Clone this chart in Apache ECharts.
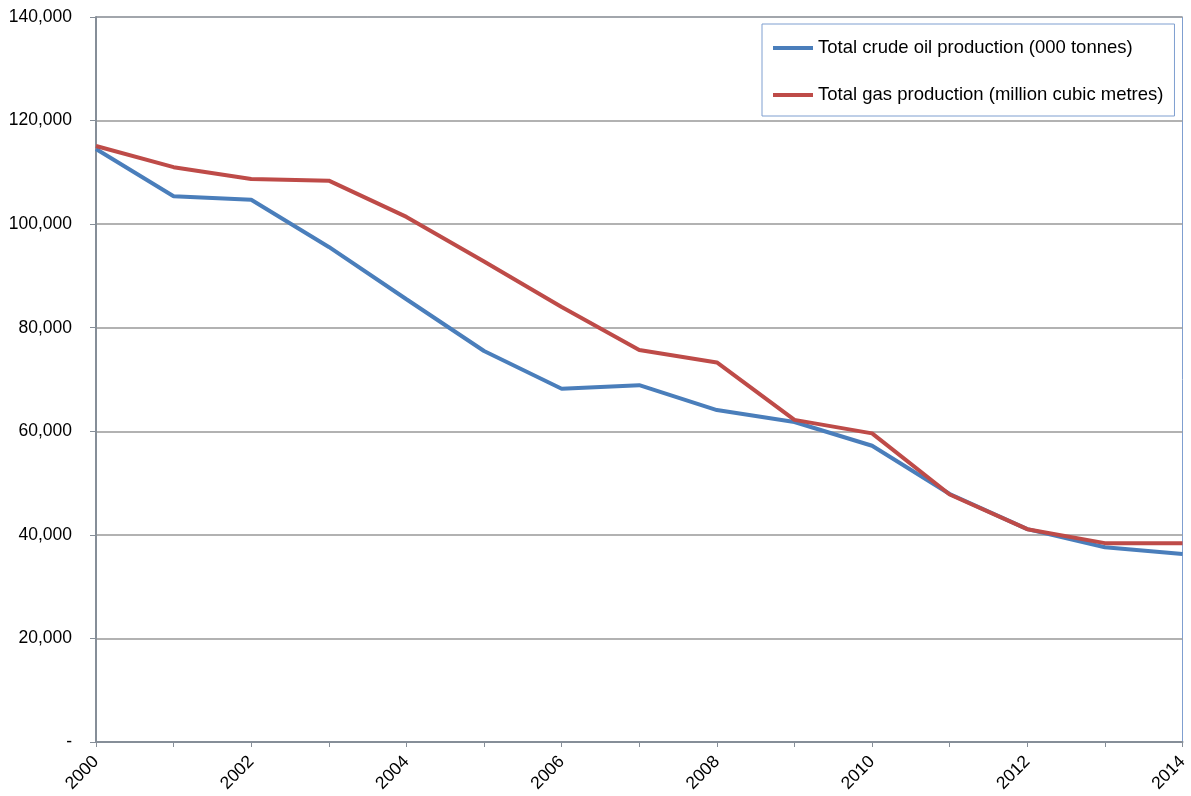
<!DOCTYPE html>
<html>
<head>
<meta charset="utf-8">
<script src="https://cdn.jsdelivr.net/npm/echarts@6/dist/echarts.min.js"></script>
<style>
  html, body { margin: 0; padding: 0; background: #fff; }
  #chart { width: 1191px; height: 796px; }
</style>
</head>
<body>
<div id="chart"></div>
<script>
// Years on the horizontal axis
const years = ['2000','2001','2002','2003','2004','2005','2006','2007','2008','2009','2010','2011','2012','2013','2014'];

// Total crude oil production (000 tonnes)
const oilProduction = [114500, 105400, 104700, 95600, 85500, 75500, 68200, 68900, 64100, 61800, 57200, 47900, 41100, 37600, 36300];

// Total gas production (million cubic metres)
const gasProduction = [115100, 111000, 108700, 108400, 101400, 92800, 84000, 75700, 73300, 62200, 59600, 47800, 41100, 38400, 38400];

const seriesNames = ['Total crude oil production (000 tonnes)', 'Total gas production (million cubic metres)'];

const fontFamily = '"Liberation Sans", Arial, sans-serif';
const chart = echarts.init(document.getElementById('chart'), null, { renderer: 'canvas' });

chart.setOption({
  animation: false,
  backgroundColor: '#ffffff',
  grid: {
    left: 96, right: 6, top: 17, bottom: 54,
    show: true,
    borderColor: '#7f9fd0',
    borderWidth: 1
  },
  legend: {
    orient: 'vertical',
    left: 762, top: 24,
    padding: [14, 11, 11, 11],
    itemGap: 27,
    itemWidth: 40,
    itemHeight: 4,
    icon: 'rect',
    borderColor: '#7f9fd0',
    borderWidth: 1,
    textStyle: { fontFamily, fontSize: 18.5, color: '#000', lineHeight: 20 },
    data: seriesNames
  },
  xAxis: {
    type: 'category',
    data: years,
    boundaryGap: false,
    axisLine: { lineStyle: { color: '#868e98', width: 2 } },
    axisTick: { show: true, interval: 0, length: 5, lineStyle: { color: '#868e98', width: 1 } },
    axisLabel: {
      interval: 1,
      rotate: 45,
      margin: 17,
      fontFamily, fontSize: 17.5, color: '#000'
    },
    splitLine: { show: false }
  },
  yAxis: {
    type: 'value',
    min: 0, max: 140000, interval: 20000,
    axisLine: { show: true, lineStyle: { color: '#868e98', width: 2 } },
    axisTick: { show: true, length: 6, lineStyle: { color: '#868e98', width: 1 } },
    axisLabel: {
      margin: 24,
      fontFamily, fontSize: 17.5, color: '#000',
      formatter: v => v === 0 ? '-' : v.toLocaleString('en-US')
    },
    splitLine: { lineStyle: { color: '#999999', width: 1.5 } }
  },
  series: [
    {
      name: seriesNames[0],
      type: 'line',
      data: oilProduction,
      symbol: 'none',
      lineStyle: { color: '#4a7ebb', width: 4 },
      itemStyle: { color: '#4a7ebb' },
      z: 3
    },
    {
      name: seriesNames[1],
      type: 'line',
      data: gasProduction,
      symbol: 'none',
      lineStyle: { color: '#be4b48', width: 4 },
      itemStyle: { color: '#be4b48' },
      z: 4
    }
  ]
});
</script>
</body>
</html>
